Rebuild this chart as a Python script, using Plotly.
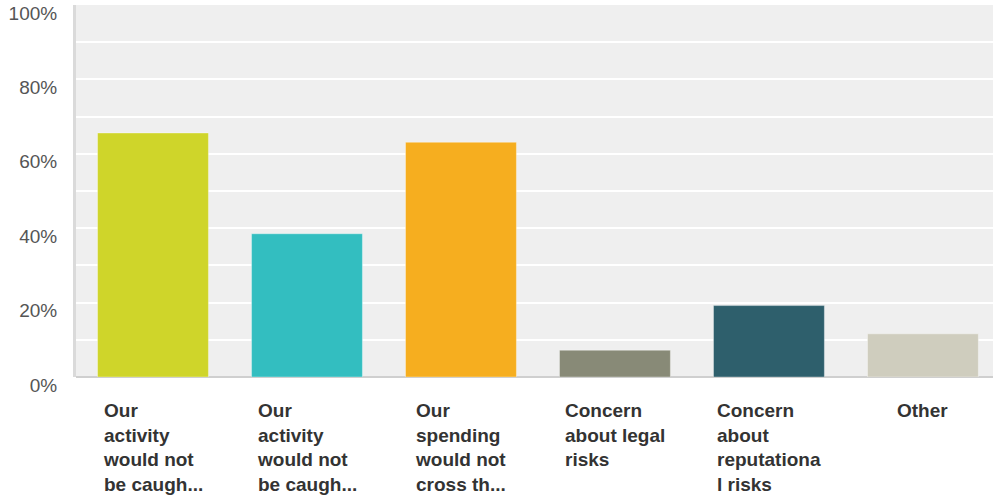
import plotly.graph_objects as go

# Survey responses (share of respondents, %)
categories = [
    "Our<br>activity<br>would not<br>be caugh...",
    "Our<br>activity<br>would not<br>be caugh...",
    "Our<br>spending<br>would not<br>cross th...",
    "Concern<br>about legal<br>risks",
    "Concern<br>about<br>reputationa<br>l risks",
    "Other",
]
values = [65.6, 38.5, 63.1, 7.2, 19.2, 11.6]
bar_colors = ["#cfd52a", "#33bec0", "#f6ae1f", "#888a77", "#2e5f6c", "#cfcdbe"]
tick_values = list(range(0, 101, 10))
tick_labels = [f"{v}%" if v % 20 == 0 else "" for v in tick_values]

positions = list(range(len(values)))

fig = go.Figure(
    go.Bar(
        x=positions,
        y=values,
        marker=dict(color=bar_colors, line=dict(color="rgba(255,255,255,0.35)", width=1)),
        width=0.72,
        hoverinfo="skip",
    )
)

# Category labels: a centred block of left-aligned lines under each bar
for pos, label in zip(positions, categories):
    fig.add_annotation(
        x=pos, y=0, xref="x", yref="y",
        text=label, showarrow=False,
        xanchor="center", yanchor="top", align="left",
        yshift=-21,
        font=dict(family="Liberation Sans, Arial, sans-serif", size=19,
                  color="#333333", weight="bold"),
    )

fig.update_layout(
    width=993, height=497,
    margin=dict(l=76, r=0, t=5, b=120),
    paper_bgcolor="white",
    plot_bgcolor="#efefef",
    showlegend=False,
    xaxis=dict(
        range=[-0.5, 5.455],
        showticklabels=False, showgrid=False, zeroline=False,
        showline=False, fixedrange=True,
    ),
    yaxis=dict(
        range=[0, 100],
        tickvals=tick_values, ticktext=tick_labels,
        showgrid=True, gridcolor="#ffffff", gridwidth=2,
        zeroline=True, zerolinecolor="#cfcfcf", zerolinewidth=2,
        showline=True, linecolor="#dadada", linewidth=3,
        ticks="", ticklabelstandoff=12, ticklabelshift=8,
        tickfont=dict(family="Liberation Sans, Arial, sans-serif", size=19, color="#555555"),
        fixedrange=True,
    ),
)

fig.write_html("out.html")
